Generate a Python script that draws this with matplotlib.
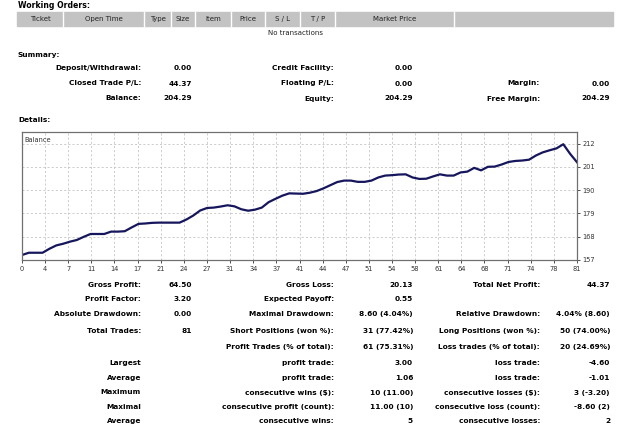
import matplotlib
matplotlib.use('Agg')
import matplotlib.pyplot as plt
from matplotlib.patches import Rectangle
from matplotlib.lines import Line2D
import numpy as np

W, H = 625, 428

# Balance nach jedem Trade (0 = Startkapital)
balance = [159.92, 161.0, 161.0, 161.0, 162.9, 164.5, 165.3, 166.3, 167.1, 168.6,
           169.97, 169.97, 169.97, 171.1, 171.1, 171.3, 173.1, 174.8, 175.0, 175.3,
           175.4, 175.4, 175.4, 175.4, 176.9, 178.8, 181.2, 182.4, 182.6, 183.1,
           183.7, 183.2, 181.8, 181.1, 181.6, 182.6, 185.2, 186.8, 188.3, 189.4,
           189.3, 189.2, 189.7, 190.5, 191.8, 193.3, 194.8, 195.5, 195.5, 194.9,
           194.9, 195.5, 197.0, 197.9, 198.1, 198.4, 198.5, 197.0, 196.3, 196.4,
           197.5, 198.5, 197.9, 197.9, 199.4, 199.8, 201.6, 200.4, 202.1, 202.2,
           203.2, 204.4, 204.9, 205.1, 205.5, 207.5, 209.0, 210.0, 210.9, 212.89,
           208.29, 204.29]
trades = np.arange(len(balance))

x_labels = ['0', '4', '7', '11', '14', '17', '21', '24', '27', '31', '34', '37', '41',
            '44', '47', '51', '54', '58', '61', '64', '68', '71', '74', '78', '81']
y_labels = ['157', '168', '179', '190', '201', '212']

# Tabellenkopf Working Orders
kopf = ['Ticket', 'Open Time', 'Type', 'Size', 'Item', 'Price', 'S / L', 'T / P', 'Market Price', '']

# Summary: (Label, Wert) je Spalte
summary = [
    [('Deposit/Withdrawal:', '0.00'), ('Credit Facility:', '0.00'), ('', '')],
    [('Closed Trade P/L:', '44.37'), ('Floating P/L:', '0.00'), ('Margin:', '0.00')],
    [('Balance:', '204.29'), ('Equity:', '204.29'), ('Free Margin:', '204.29')],
]

# Details unter dem Chart
details = [
    [('Gross Profit:', '64.50'), ('Gross Loss:', '20.13'), ('Total Net Profit:', '44.37')],
    [('Profit Factor:', '3.20'), ('Expected Payoff:', '0.55'), ('', '')],
    [('Absolute Drawdown:', '0.00'), ('Maximal Drawdown:', '8.60 (4.04%)'), ('Relative Drawdown:', '4.04% (8.60)')],
    [('Total Trades:', '81'), ('Short Positions (won %):', '31 (77.42%)'), ('Long Positions (won %):', '50 (74.00%)')],
    [('', ''), ('Profit Trades (% of total):', '61 (75.31%)'), ('Loss trades (% of total):', '20 (24.69%)')],
    [('Largest', ''), ('profit trade:', '3.00'), ('loss trade:', '-4.60')],
    [('Average', ''), ('profit trade:', '1.06'), ('loss trade:', '-1.01')],
    [('Maximum', ''), ('consecutive wins ($):', '10 (11.00)'), ('consecutive losses ($):', '3 (-3.20)')],
    [('Maximal', ''), ('consecutive profit (count):', '11.00 (10)'), ('consecutive loss (count):', '-8.60 (2)')],
    [('Average', ''), ('consecutive wins:', '5'), ('consecutive losses:', '2')],
]

fig = plt.figure(figsize=(W / 100, H / 100), dpi=100)
fig.patch.set_facecolor('white')

FS = 5.3


def txt(x, y, s, ha='right', bold=True, size=FS, color='black'):
    fig.text(x / W, 1 - y / H, s, ha=ha, va='center', fontsize=size,
             fontweight='bold' if bold else 'normal', color=color)


# Working Orders
txt(18, 6, 'Working Orders:', ha='left', size=5.6)
fig.patches.append(Rectangle((17 / W, 1 - 26 / H), (613 - 17) / W, 14 / H,
                             transform=fig.transFigure, color='#c3c3c3', zorder=0))
trenner = [17, 63, 144, 171, 195, 231, 265, 300, 335, 454, 613]
for xs in trenner[1:-1]:
    fig.lines.append(Line2D([xs / W, xs / W], [1 - 26 / H, 1 - 12 / H],
                            transform=fig.transFigure, color='white', lw=1))
for i, k in enumerate(kopf):
    txt((trenner[i] + trenner[i + 1]) / 2, 19, k, ha='center', bold=False, size=5.0, color='#222222')
txt(295, 33, 'No transactions', ha='center', bold=False, size=5.0, color='#222222')

# Summary
spalten = [(141, 192), (334, 413), (540, 610)]
txt(18, 55, 'Summary:', ha='left')
for r, y in zip(summary, [68, 83.5, 98.5]):
    for (lab, val), (xl, xv) in zip(r, spalten):
        txt(xl, y, lab)
        txt(xv, y, val)

# Details + Chart
txt(18, 120, 'Details:', ha='left')
ax = fig.add_axes([22 / W, 1 - 260 / H, (577 - 22) / W, (260 - 132.3) / H])
ax.plot(trades, balance, color='#16165c', lw=1.6, solid_joinstyle='round')
ax.set_xlim(0, 81)
ax.set_ylim(157.53, 218.6)
ax.set_xticks(np.linspace(0, 81, len(x_labels)))
ax.set_xticklabels(x_labels)
ax.set_yticks(np.linspace(157.53, 213.2, len(y_labels)))
ax.set_yticklabels(y_labels)
ax.yaxis.tick_right()
ax.tick_params(axis='both', length=2, width=0.6, labelsize=4.8, pad=2, colors='#333333')
ax.grid(True, color='#c4c4c4', lw=0.6, ls=(0, (2.5, 2.5)))
for s in ax.spines.values():
    s.set_color('#707070')
    s.set_linewidth(0.9)
ax.text(0.005, 0.96, 'Balance', transform=ax.transAxes, ha='left', va='top',
        fontsize=4.8, color='#333333')

for r, y in zip(details, [285, 299, 314, 331, 347, 363, 378, 392.5, 407, 421]):
    for (lab, val), (xl, xv) in zip(r, spalten):
        txt(xl, y, lab)
        txt(xv, y, val)

fig.savefig('out.png', dpi=100)
